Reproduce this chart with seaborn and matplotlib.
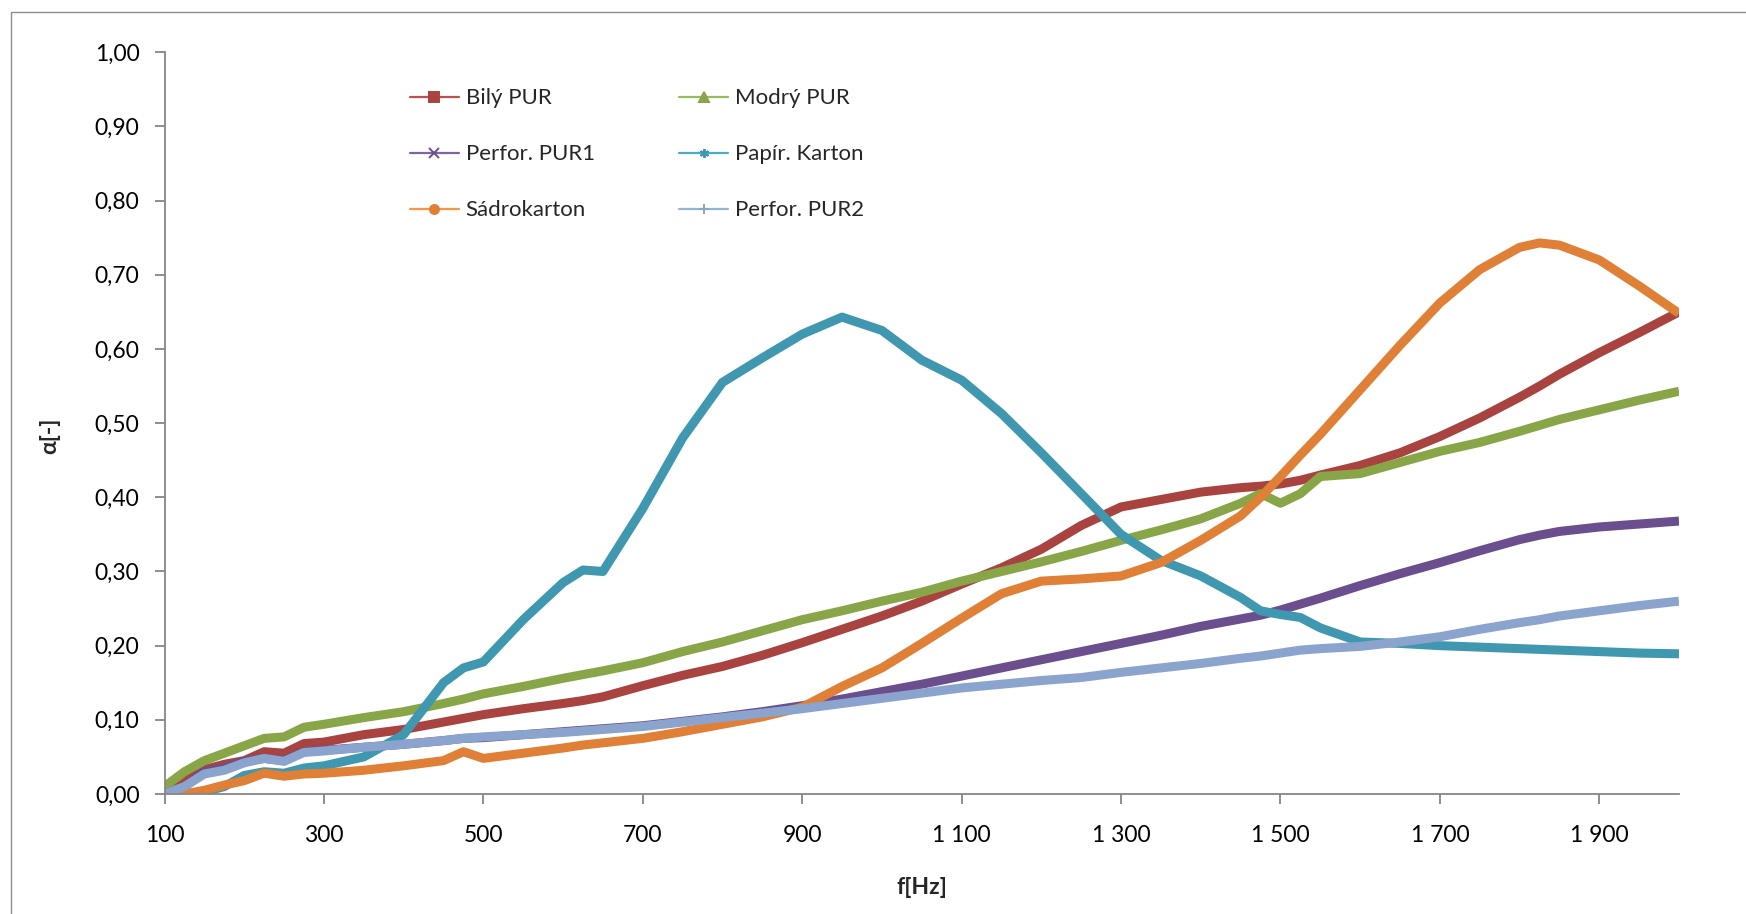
import matplotlib
matplotlib.use("Agg")
import matplotlib.pyplot as plt
from matplotlib.lines import Line2D
from matplotlib.patches import Rectangle
from matplotlib.ticker import FuncFormatter, MultipleLocator, FixedLocator
import numpy as np
import pandas as pd
import seaborn as sns

# Frequency grid [Hz]
freq = [100, 125, 150, 175, 200, 225, 250, 275, 300, 350, 400, 450, 475, 500,
        550, 600, 625, 650, 700, 750, 800, 850, 900, 950, 1000, 1050, 1100,
        1150, 1200, 1250, 1300, 1350, 1400, 1450, 1475, 1500, 1525, 1550,
        1600, 1650, 1700, 1750, 1800, 1825, 1850, 1900, 1950, 2000]

# Sound absorption coefficient of each material
bily_pur = [0.005, 0.020, 0.033, 0.040, 0.045, 0.057, 0.055, 0.068, 0.070, 0.080,
            0.087, 0.097, 0.102, 0.107, 0.115, 0.122, 0.126, 0.131, 0.146, 0.160,
            0.172, 0.187, 0.204, 0.222, 0.240, 0.260, 0.283, 0.305, 0.330, 0.362,
            0.387, 0.397, 0.407, 0.413, 0.415, 0.418, 0.423, 0.430, 0.443, 0.460,
            0.482, 0.507, 0.535, 0.550, 0.566, 0.595, 0.622, 0.650]
modry_pur = [0.010, 0.030, 0.045, 0.055, 0.065, 0.075, 0.077, 0.090, 0.094, 0.103,
             0.111, 0.122, 0.128, 0.135, 0.145, 0.156, 0.161, 0.166, 0.177, 0.192,
             0.205, 0.220, 0.235, 0.247, 0.260, 0.272, 0.287, 0.300, 0.313, 0.327,
             0.342, 0.356, 0.371, 0.392, 0.405, 0.392, 0.405, 0.428, 0.432, 0.447,
             0.462, 0.474, 0.489, 0.497, 0.505, 0.518, 0.531, 0.543]
perfor_pur1 = [0.000, 0.010, 0.030, 0.035, 0.044, 0.048, 0.045, 0.057, 0.059, 0.063,
               0.067, 0.072, 0.075, 0.076, 0.080, 0.084, 0.086, 0.088, 0.092, 0.098,
               0.104, 0.111, 0.119, 0.128, 0.138, 0.148, 0.159, 0.170, 0.181, 0.192,
               0.203, 0.214, 0.226, 0.236, 0.241, 0.248, 0.256, 0.264, 0.281, 0.297,
               0.312, 0.328, 0.343, 0.349, 0.354, 0.360, 0.364, 0.368]
papir_karton = [0.000, 0.000, 0.003, 0.010, 0.025, 0.030, 0.028, 0.035, 0.038, 0.050,
                0.080, 0.150, 0.170, 0.178, 0.235, 0.285, 0.302, 0.300, 0.385, 0.480,
                0.555, 0.588, 0.620, 0.643, 0.625, 0.585, 0.558, 0.513, 0.460, 0.405,
                0.350, 0.315, 0.294, 0.265, 0.247, 0.242, 0.238, 0.224, 0.205, 0.203,
                0.200, 0.198, 0.196, 0.195, 0.194, 0.192, 0.190, 0.189]
sadrokarton = [0.000, 0.000, 0.005, 0.012, 0.018, 0.028, 0.024, 0.027, 0.028, 0.032,
               0.038, 0.045, 0.057, 0.048, 0.055, 0.062, 0.066, 0.069, 0.075, 0.084,
               0.094, 0.104, 0.117, 0.145, 0.170, 0.203, 0.237, 0.270, 0.287, 0.290,
               0.294, 0.312, 0.342, 0.375, 0.400, 0.428, 0.457, 0.485, 0.545, 0.605,
               0.662, 0.707, 0.737, 0.743, 0.740, 0.720, 0.685, 0.648]
perfor_pur2 = [0.000, 0.010, 0.027, 0.032, 0.042, 0.048, 0.044, 0.056, 0.058, 0.063,
               0.067, 0.072, 0.075, 0.077, 0.080, 0.083, 0.085, 0.087, 0.091, 0.097,
               0.103, 0.109, 0.115, 0.122, 0.129, 0.136, 0.143, 0.148, 0.153, 0.157,
               0.164, 0.170, 0.176, 0.183, 0.186, 0.190, 0.194, 0.196, 0.199, 0.205,
               0.212, 0.222, 0.231, 0.235, 0.240, 0.247, 0.254, 0.260]

series_names = ["Bilý PUR", "Modrý PUR", "Perfor. PUR1",
                "Papír. Karton", "Sádrokarton", "Perfor. PUR2"]
series_values = [bily_pur, modry_pur, perfor_pur1,
                 papir_karton, sadrokarton, perfor_pur2]
series_colors = ["#A9433F", "#88A647", "#6A4E8D",
                 "#3F97B0", "#E07F36", "#8AA4CD"]
legend_line_colors = ["#C0504D", "#9BBB59", "#8064A2",
                      "#4BACC6", "#F79646", "#95B3D7"]
series_markers = ["s", "^", "x", (6, 2, 0), "o", "+"]

x_ticks = [100, 300, 500, 700, 900, 1100, 1300, 1500, 1700, 1900]

df = pd.concat(
    [pd.DataFrame({"f": freq, "alpha": vals, "material": name})
     for name, vals in zip(series_names, series_values)],
    ignore_index=True)

sns.set_style("white")
plt.rcParams["font.family"] = ["Lato", "DejaVu Sans"]

W, H = 1746, 914
fig = plt.figure(figsize=(W / 100, H / 100), dpi=100)
ax_l, ax_r, ax_b, ax_t = 164.5, 1679, 794, 52.3
ax = fig.add_axes([ax_l / W, 1 - ax_b / H, (ax_r - ax_l) / W, (ax_b - ax_t) / H])

sns.lineplot(data=df, x="f", y="alpha", hue="material", hue_order=series_names,
             palette=series_colors, linewidth=6.5, estimator=None, sort=False,
             legend=False, ax=ax)
for ln in ax.lines:
    ln.set_solid_joinstyle("round")
    ln.set_solid_capstyle("butt")

ax.set_xlim(100, 2000)
ax.set_ylim(0, 1.0)
ax.xaxis.set_major_locator(FixedLocator(x_ticks))
ax.yaxis.set_major_locator(MultipleLocator(0.1))
ax.xaxis.set_major_formatter(FuncFormatter(lambda v, p: f"{int(round(v)):,}".replace(",", " ")))
ax.yaxis.set_major_formatter(FuncFormatter(lambda v, p: f"{v:.2f}".replace(".", ",")))
ax.set_xlabel("")
ax.set_ylabel("")

axis_grey = "#868686"
for side in ["top", "right"]:
    ax.spines[side].set_visible(False)
for side in ["left", "bottom"]:
    ax.spines[side].set_color(axis_grey)
    ax.spines[side].set_linewidth(1.3)
ax.tick_params(axis="both", direction="out", length=7, width=1.3, color=axis_grey,
               labelsize=16.5, labelcolor="black")
ax.tick_params(axis="x", pad=15, bottom=True)
ax.tick_params(axis="y", pad=11, left=True)

fig.text((ax_l + ax_r) / 2 / W, 1 - 888 / H, "f[Hz]", ha="center", va="center",
         fontsize=16.5, fontweight="bold")
fig.text(50 / W, 1 - 436 / H, "α[-]", ha="center", va="center", rotation=90,
         fontsize=16.5, fontweight="bold")

# Legend: two columns, filled column by column
order = [0, 2, 4, 1, 3, 5]
handles = [Line2D([], [], color=legend_line_colors[i], lw=1.6,
                  marker=series_markers[i], markersize=6.5,
                  markerfacecolor=series_colors[i], markeredgecolor=series_colors[i],
                  markeredgewidth=1.4)
           for i in order]
labels = [series_names[i] for i in order]
fig.legend(handles, labels, ncol=2, loc="upper left",
           bbox_to_anchor=(410 / W, 1 - 88.5 / H), bbox_transform=fig.transFigure,
           frameon=False, fontsize=16, borderpad=0, borderaxespad=0,
           handlelength=2.2, handletextpad=0.3, columnspacing=3.8,
           labelspacing=1.62)

# Chart frame
fig.add_artist(Rectangle((10.7 / W, -0.1), 2.0, 1 - 11.7 / H + 0.1,
                         transform=fig.transFigure, fill=False,
                         edgecolor="#8c8c8c", linewidth=1.0))

fig.savefig("out.png", dpi=100)
